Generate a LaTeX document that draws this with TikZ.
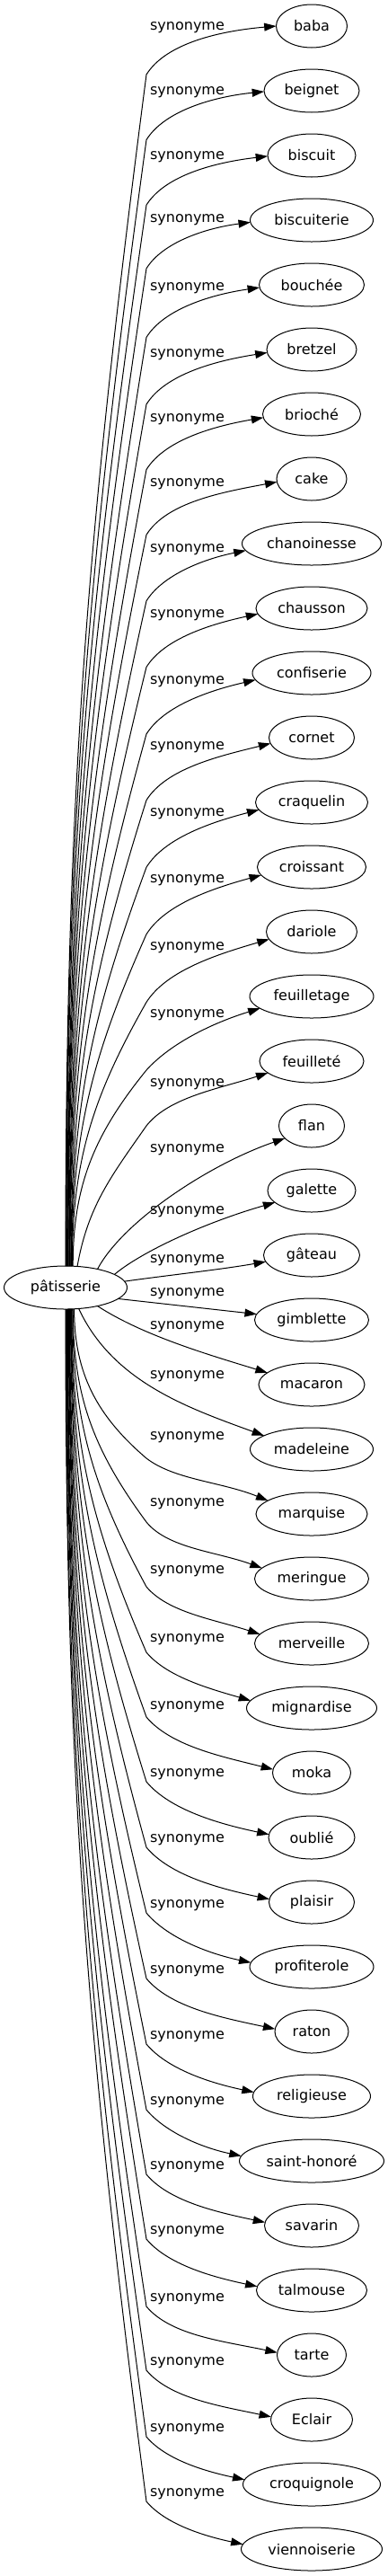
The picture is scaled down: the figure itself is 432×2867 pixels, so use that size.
\documentclass[tikz,border=0pt]{standalone}
\usepackage{fontspec}
\setmainfont{DejaVu Sans}
\usetikzlibrary{arrows.meta,shapes.geometric}
\begin{document}
\begin{tikzpicture}[x=0.75pt,y=0.75pt,
  word/.style={ellipse,draw,line width=0.75pt,minimum height=36pt,inner sep=0pt,outer sep=0pt,font=\fontsize{12pt}{14pt}\selectfont},
  lbl/.style={inner sep=0pt,anchor=base,font=\fontsize{12pt}{14pt}\selectfont},
  syn/.style={line width=0.75pt,-{Triangle[length=10pt,width=6.7pt]}}]
\fill[white] (0,0) rectangle (432,-2867);
\useasboundingbox (0,0) rectangle (432,-2867);
\node[word,minimum width=102.75pt] (pat) at (73,-1433) {pâtisserie};
\foreach [count=\i from 0] \n/\w/\txt in {
 baba/59.25/baba, beignet/79.5/beignet, biscuit/73.5/biscuit, biscuiterie/102.75/biscuiterie,
 bouchee/87.75/bouchée, bretzel/75/bretzel, brioche/81.75/brioché, cake/58.5/cake,
 chanoinesse/116.25/chanoinesse, chausson/93/chausson, confiserie/99/confiserie, cornet/71.25/cornet,
 craquelin/93.75/craquelin, croissant/90.75/croissant, dariole/75.75/dariole, feuilletage/103.5/feuilletage,
 feuillete/87/feuilleté, flan/54.75/flan, galette/73.5/galette, gateau/80.25/gâteau,
 gimblette/95.25/gimblette, macaron/88.5/macaron, madeleine/102.75/madeleine, marquise/93/marquise,
 meringue/95.25/meringue, merveille/95.25/merveille, mignardise/108.75/mignardise, moka/65.25/moka,
 oublie/72/oublié, plaisir/71.25/plaisir, profiterole/103.5/profiterole, raton/61.5/raton,
 religieuse/98.25/religieuse, sainthonore/120.75/saint-honoré, savarin/78.75/savarin, talmouse/92.25/talmouse,
 tarte/57.75/tarte, eclair/68.25/Eclair, croquignole/114.75/croquignole, viennoiserie/117.75/viennoiserie}
 {\node[word,minimum width=\w pt] (\n) at (347,{-29-72*\i}) {\txt};}
\foreach \n/\ly in {
 baba/33.4, beignet/105.4, biscuit/177.4, biscuiterie/247.4, bouchee/323.4, bretzel/397.4,
 brioche/469.4, cake/541.4, chanoinesse/614.4, chausson/687.4, confiserie/761.4, cornet/834.4,
 craquelin/908.4, croissant/982.4, dariole/1057.4, feuilletage/1132.4, feuillete/1209.4, flan/1282.4,
 galette/1351.4, gateau/1405.4, gimblette/1442.4, macaron/1479.4, madeleine/1534.4, marquise/1602.4,
 meringue/1676.4, merveille/1751.4, mignardise/1827.4, moka/1902.4, oublie/1977.4, plaisir/2050.4,
 profiterole/2123.4, raton/2196.4, religieuse/2269.4, sainthonore/2342.4, savarin/2414.4, talmouse/2486.4,
 tarte/2561.4, eclair/2632.4, croquignole/2706.4, viennoiserie/2778.4}
 {\node[lbl] (l-\n) at (208.5,-\ly) {synonyme};}
% upper fan
\foreach \tg/\sa/\wy/\iw/\ow/\ea/\ia in {
 baba/90/83/262.6/58/180/185, beignet/89/155.6/262.2/58/181/185.8,
 biscuit/88/228.2/261.8/58/181/186.6, biscuiterie/86/298.8/261.4/58/182/187.4,
 bouchee/85/375.4/260.8/58/183/188.2, bretzel/84/450/260.1/58/184/189,
 brioche/83/522.6/259.4/58/184/189.8, cake/81/595.2/258.5/58/185/190.6,
 chanoinesse/80/668.8/257.5/58/186/191.4, chausson/79/742.4/256.2/58/186/192.2,
 confiserie/78/817/254.6/58/187/193, cornet/76/890.6/252.5/58/188/193.8,
 craquelin/75/965.2/249.8/58/188/194.6, croissant/74/1039.8/246/58/189/195.4,
 dariole/73/1115.4/240.4/57.4/190/196.2, feuilletage/71/1191/231/48/193/197}
 {\draw[syn] (pat.\sa) to[out=90,in=\iw] (163,-\wy) to[out=\ow,in=\ia,out looseness=0.7] (\tg.\ea);}
\draw[syn] (pat.61) to[out=80,in=235] (163,-1253) to[out=52,in=198,out looseness=0.7] (feuillete.195);
\draw[syn] (pat.30) .. controls +(62:60) and +(199:90) .. (flan.205);
\draw[syn] (pat.15) .. controls +(40:40) and +(196:80) .. (galette.198);
\draw[syn] (pat.6) .. controls +(8:50) and +(190:50) .. (gateau.188);
\draw[syn] (pat.-12) -- (gimblette.174);
\draw[syn] (pat.-30) .. controls +(-33:60) and +(163:70) .. (macaron.165);
\draw[syn] (pat.-58) .. controls +(-65:90) and +(160:90) .. (madeleine.164);
\draw[syn] (pat.292) to[out=-90,in=139.4] (163,-1623) to[out=-37.6,in=158,out looseness=0.7] (marquise.163);
% lower fan
\foreach \tg/\sa/\wy/\iw/\ow/\ea/\ia in {
 meringue/289/1694/126.3/-50.7/168/160, merveille/288/1766/118.4/-50/170/162,
 mignardise/286/1839/113.3/-50/173/164, moka/285/1911/109.8/-50/175/166,
 oublie/284/1983/107.3/-50/176/168, plaisir/283/2056/105.3/-50/176/168,
 profiterole/281/2129/103.7/-50/176/168, raton/280/2202/102.5/-50/176/168,
 religieuse/279/2275/101.5/-50/176/168, sainthonore/278/2348/100.6/-50/176/168,
 savarin/276/2420/99.9/-50/176/168, talmouse/275/2492/99.2/-50/176/168,
 tarte/274/2567/98.7/-50/176/168, eclair/273/2638/98.2/-50/176/168,
 croquignole/271/2712/97.8/-50/176/168, viennoiserie/270/2784/97.4/-50/176/168}
 {\draw[syn] (pat.\sa) to[out=-90,in=\iw] (163,-\wy) to[out=\ow,in=\ia,out looseness=0.7] (\tg.\ea);}
\end{tikzpicture}
\end{document}
